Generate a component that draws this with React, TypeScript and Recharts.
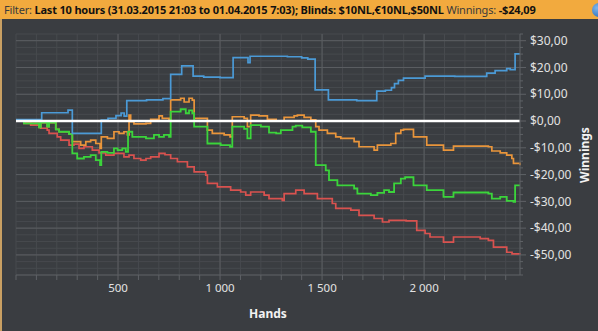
import { LineChart, Line, XAxis, YAxis, CartesianGrid, ReferenceLine } from "recharts";

// hands -> cumulative winnings ($) at each step
const BLUE_HANDS = [0, 126, 255, 276, 418, 451, 490, 515, 530, 543, 640, 720, 758, 812, 868, 920, 1000, 1064, 1137, 1147, 1250, 1330, 1400, 1430, 1466, 1531, 1670, 1768, 1810, 1840, 1855, 1874, 1899, 2005, 2150, 2307, 2348, 2405, 2422, 2446, 2470];
const BLUE_WINNINGS = [0.5, 3.1, 4.1, -4.6, 0.3, 1.0, 2.0, 3.0, 1.8, 7.6, 7.9, 8.4, 17.4, 20.6, 16.8, 16.4, 16.2, 23.7, 21.8, 24.2, 24.2, 24.0, 23.6, 23.1, 11.6, 7.9, 7.6, 11.2, 11.5, 12.5, 14.0, 15.2, 16.0, 16.8, 16.7, 17.9, 18.8, 19.6, 19.2, 25.1, 25.1];

const RED_HANDS = [0, 40, 72, 121, 153, 162, 202, 219, 260, 284, 309, 333, 374, 407, 440, 480, 529, 554, 578, 611, 637, 660, 701, 730, 758, 791, 840, 873, 930, 938, 987, 1052, 1101, 1126, 1150, 1191, 1216, 1240, 1305, 1314, 1371, 1412, 1477, 1550, 1567, 1641, 1681, 1755, 1796, 1828, 1912, 1964, 2005, 2029, 2095, 2144, 2275, 2315, 2340, 2405, 2431, 2470];
const RED_WINNINGS = [0, -0.8, -1.5, -2.7, -3.4, -4.6, -5.9, -7.1, -9.0, -8.6, -10.2, -9.6, -10.9, -11.9, -12.7, -12.1, -13.4, -12.7, -14.0, -14.6, -14.0, -13.4, -12.1, -12.6, -14.0, -15.2, -17.1, -19.0, -20.2, -23.3, -24.6, -25.8, -26.5, -27.7, -26.5, -26.5, -27.7, -29.0, -29.6, -27.1, -25.8, -27.1, -29.0, -30.8, -32.6, -33.3, -35.2, -36.4, -37.7, -37.1, -37.3, -40.8, -42.0, -43.3, -45.2, -43.3, -43.9, -44.6, -47.1, -49.0, -49.6, -49.4];

const GREEN_HANDS = [0, 39, 113, 121, 153, 162, 195, 211, 260, 276, 300, 333, 366, 391, 412, 418, 448, 480, 498, 521, 538, 549, 570, 637, 676, 701, 725, 750, 758, 807, 832, 848, 864, 873, 938, 1003, 1049, 1060, 1118, 1134, 1150, 1200, 1240, 1275, 1298, 1355, 1371, 1403, 1445, 1469, 1518, 1534, 1575, 1657, 1673, 1739, 1771, 1804, 1828, 1853, 1886, 1907, 1948, 2013, 2095, 2144, 2315, 2332, 2373, 2405, 2438, 2446, 2470];
const GREEN_WINNINGS = [0, -0.9, -2.4, -0.6, -2.1, -0.6, -3.1, -4.0, -4.9, -12.1, -14.0, -13.4, -12.7, -14.6, -16.5, -11.5, -11.9, -10.2, -10.9, -10.2, -11.5, -4.0, -5.9, -6.5, -5.2, -5.9, -5.2, -5.9, 3.5, 4.4, 2.9, 4.0, 2.9, -2.1, -8.4, -9.0, -9.6, -2.1, -2.9, -6.5, -1.5, -2.1, -4.3, -4.6, -3.4, -2.1, -1.7, -2.4, -4.0, -16.5, -18.4, -22.1, -24.0, -25.2, -27.1, -27.7, -26.8, -25.8, -26.5, -23.3, -21.5, -21.0, -24.0, -25.8, -28.3, -26.7, -27.1, -29.0, -28.3, -29.8, -30.2, -24.0, -24.0];

const ORANGE_HANDS = [0, 39, 113, 121, 153, 162, 195, 211, 260, 276, 317, 342, 366, 391, 412, 418, 448, 480, 505, 529, 546, 554, 562, 578, 637, 660, 701, 717, 750, 758, 807, 824, 848, 864, 873, 938, 962, 1020, 1049, 1060, 1118, 1134, 1150, 1191, 1232, 1275, 1314, 1363, 1379, 1412, 1445, 1469, 1485, 1526, 1567, 1592, 1657, 1681, 1755, 1771, 1837, 1861, 1886, 1899, 1948, 2013, 2095, 2144, 2315, 2332, 2373, 2405, 2430, 2438, 2470];
const ORANGE_WINNINGS = [0, -0.9, -2.4, -0.6, -2.1, -0.6, -3.1, -4.0, -4.9, -7.7, -9.0, -7.7, -7.1, -8.4, -10.2, -5.9, -6.5, -4.0, -4.6, -4.0, -5.2, 2.2, -0.2, -1.1, -0.9, 0.6, 1.9, 1.0, 0.4, 7.9, 8.5, 7.1, 8.5, 7.8, 1.0, -3.4, -4.6, -5.2, -5.9, 1.6, 1.0, -2.1, 2.2, 1.9, 0.6, 0.1, 1.4, 1.9, 2.2, 1.4, 0.4, -2.1, -3.4, -4.6, -5.9, -6.5, -7.7, -9.6, -10.9, -9.0, -8.4, -4.6, -3.4, -3.1, -5.9, -9.0, -10.9, -9.4, -9.6, -11.2, -11.9, -12.7, -14.0, -15.8, -16.5];

const ZERO_HANDS = [0, 2470];
const ZERO_WINNINGS = [0, 0];

const HAND_TICKS = [0, 100, 200, 300, 400, 500, 600, 700, 800, 900, 1000, 1100, 1200, 1300, 1400, 1500, 1600, 1700, 1800, 1900, 2000, 2100, 2200, 2300, 2400];
const HAND_MAJOR = [500, 1000, 1500, 2000];
const WINNING_TICKS = [-57.5, -55, -52.5, -50, -47.5, -45, -42.5, -40, -37.5, -35, -32.5, -30, -27.5, -25, -22.5, -20, -17.5, -15, -12.5, -10, -7.5, -5, -2.5, 0, 2.5, 5, 7.5, 10, 12.5, 15, 17.5, 20, 22.5, 25, 27.5, 30, 32.5];
const WINNING_MAJOR = [-50, -40, -30, -20, -10, 10, 20, 30];

const BG = "#3a3d41";
const LABEL = "#e2e2e2";

const zip = (hands: number[], vals: number[]) => hands.map((h, i) => ({ hands: h, winnings: vals[i] }));

const fmtHands = (v: number) => (v >= 1000 ? `${Math.floor(v / 1000)} ${String(v % 1000).padStart(3, "0")}` : String(v));
const fmtMoney = (v: number) => (v < 0 ? `-$${Math.abs(v)},00` : `$${v},00`);

function HandTick({ x, y, payload }: any) {
  const v = payload.value;
  const major = v > 0 && v % 500 === 0;
  return (
    <g>
      <line x1={x} x2={x} y1={y} y2={y + 5} stroke="#5f6266" />
      {major && (
        <text x={x} y={y + 17} textAnchor="middle" fill={LABEL} fontSize={11.5}>
          {fmtHands(v)}
        </text>
      )}
    </g>
  );
}

function WinningTick({ x, y, payload }: any) {
  const v = payload.value;
  const major = v % 10 === 0;
  return (
    <g>
      <line x1={x} x2={x + (major ? 6 : 3)} y1={y} y2={y} stroke="#5f6266" />
      {major && (
        <text x={x + 10} y={y} dy="0.35em" fill={LABEL} fontSize={12}>
          {fmtMoney(v)}
        </text>
      )}
    </g>
  );
}

export default function App() {
  return (
    <div
      style={{
        position: "absolute",
        left: 0,
        top: 0,
        width: 598,
        height: 331,
        background: BG,
        overflow: "hidden",
        fontFamily: "'Noto Sans', sans-serif",
      }}
    >
      <div
        style={{
          position: "absolute",
          left: 0,
          top: 0,
          width: 598,
          height: 19,
          background: "#f2aa3e",
          color: "#111",
          fontSize: 11,
          letterSpacing: "-0.18px",
          lineHeight: "19px",
          paddingLeft: 4,
          whiteSpace: "nowrap",
        }}
      >
        <span style={{ color: "#3a3a3a" }}>Filter: </span>
        <b>Last 10 hours (31.03.2015 21:03 to 01.04.2015 7:03); Blinds: $10NL,€10NL,$50NL</b>
        <span style={{ color: "#3a3a3a" }}> Winnings: </span>
        <b>-$24,09</b>
      </div>
      <div
        style={{
          position: "absolute",
          left: 592,
          top: 3,
          width: 14,
          height: 14,
          borderRadius: "50%",
          background: "radial-gradient(circle at 35% 35%, #7fb6ec, #1f5fae)",
        }}
      />
      <div style={{ position: "absolute", left: 0, top: 19, width: 2, height: 312, background: "#c9a063" }} />
      <div style={{ position: "absolute", left: 0, top: 0 }}>
        <LineChart width={598} height={331} margin={{ top: 34, right: 0, bottom: 0, left: 16 }}>
          <CartesianGrid stroke="#474a4e" strokeWidth={1} />
          {WINNING_MAJOR.map((v) => (
            <ReferenceLine key={`y${v}`} y={v} stroke="#5b5e62" strokeWidth={1} />
          ))}
          {HAND_MAJOR.map((v) => (
            <ReferenceLine key={`x${v}`} x={v} stroke="#5b5e62" strokeWidth={1} />
          ))}
          <XAxis
            dataKey="hands"
            type="number"
            domain={[0, 2470]}
            ticks={HAND_TICKS}
            interval={0}
            height={56}
            tickSize={0}
            tickMargin={0}
            tickLine={false}
            axisLine={{ stroke: "#5b5e62" }}
            tick={<HandTick />}
            label={{ value: "Hands", position: "insideBottom", offset: 13, fill: "#f2f2f2", fontSize: 12, fontWeight: 700 }}
          />
          <YAxis
            orientation="right"
            type="number"
            domain={[-57.5, 32.5]}
            ticks={WINNING_TICKS}
            interval={0}
            width={78}
            tickSize={0}
            tickMargin={0}
            tickLine={false}
            axisLine={{ stroke: "#5b5e62" }}
            tick={<WinningTick />}
          />
          <Line data={zip(RED_HANDS, RED_WINNINGS)} dataKey="winnings" type="stepAfter" stroke="#d9524f" strokeWidth={1.7} dot={false} isAnimationActive={false} />
          <Line data={zip(ORANGE_HANDS, ORANGE_WINNINGS)} dataKey="winnings" type="stepAfter" stroke="#e9953b" strokeWidth={1.7} dot={false} isAnimationActive={false} />
          <Line data={zip(GREEN_HANDS, GREEN_WINNINGS)} dataKey="winnings" type="stepAfter" stroke="#3bd43b" strokeWidth={1.8} dot={false} isAnimationActive={false} />
          <Line data={zip(BLUE_HANDS, BLUE_WINNINGS)} dataKey="winnings" type="stepAfter" stroke="#4b9ad6" strokeWidth={1.7} dot={false} isAnimationActive={false} />
          <Line data={zip(ZERO_HANDS, ZERO_WINNINGS)} dataKey="winnings" type="linear" stroke="#ffffff" strokeWidth={2.5} dot={false} isAnimationActive={false} />
        </LineChart>
      </div>
      <div
        style={{
          position: "absolute",
          left: 584,
          top: 155,
          transform: "translate(-50%, -50%) rotate(-90deg)",
          color: "#f2f2f2",
          fontSize: 12,
          fontWeight: 700,
          whiteSpace: "nowrap",
        }}
      >
        Winnings
      </div>
    </div>
  );
}
